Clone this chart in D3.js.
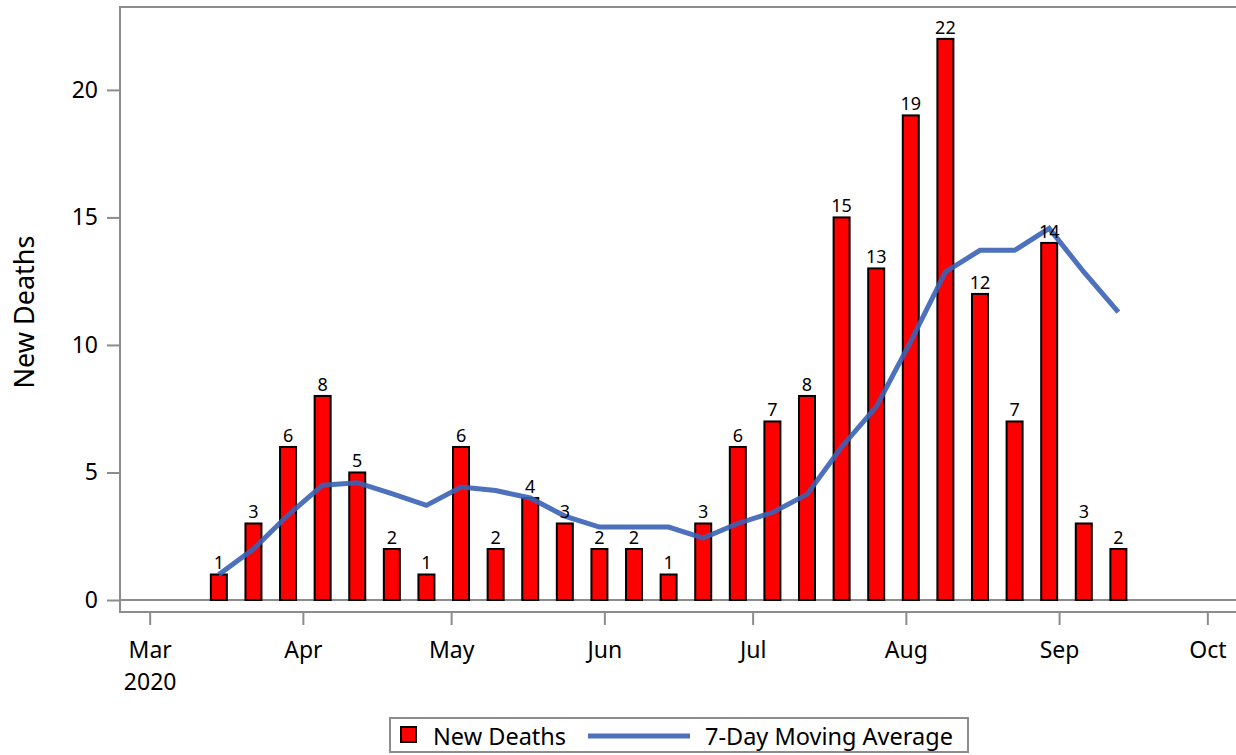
<!DOCTYPE html>
<html lang="en">
<head>
    <meta charset="UTF-8">
    <title>New Deaths</title>
    <script src="https://d3js.org/d3.v7.min.js"></script>
    <style>
        body { margin: 0; background: #fff; }
        text { font-family: "Noto Sans", "Open Sans", sans-serif; fill: #000; }
    </style>
</head>
<body>
<script>
    var width = 1236;
    var height = 755;

    // weekly data
    var weeks = ["2020-03-15", "2020-03-22", "2020-03-29", "2020-04-05", "2020-04-12", "2020-04-19",
        "2020-04-26", "2020-05-03", "2020-05-10", "2020-05-17", "2020-05-24", "2020-05-31",
        "2020-06-07", "2020-06-14", "2020-06-21", "2020-06-28", "2020-07-05", "2020-07-12",
        "2020-07-19", "2020-07-26", "2020-08-02", "2020-08-09", "2020-08-16", "2020-08-23",
        "2020-08-30", "2020-09-06", "2020-09-13"];
    var newDeaths = [1, 3, 6, 8, 5, 2, 1, 6, 2, 4, 3, 2, 2, 1, 3, 6, 7, 8, 15, 13, 19, 22, 12, 7, 14, 3, 2];
    var movingAvg = [1, 2, 3.33, 4.5, 4.6, 4.17, 3.71, 4.43, 4.29, 4, 3.29, 2.86, 2.86, 2.86, 2.43,
        3, 3.43, 4.14, 6, 7.57, 10.14, 12.86, 13.71, 13.71, 14.57, 12.86, 11.29];
    var monthTicks = ["2020-03-01", "2020-04-01", "2020-05-01", "2020-06-01", "2020-07-01",
        "2020-08-01", "2020-09-01", "2020-10-01"];
    var yTicks = [0, 5, 10, 15, 20];

    var parse = d3.timeParse("%Y-%m-%d");
    var data = weeks.map(function(w, i) {
        return { date: parse(w), deaths: newDeaths[i], avg: movingAvg[i] };
    });

    var plotLeft = 120, plotTop = 7, axisY = 612;

    var x = d3.scaleTime()
        .domain([parse("2020-02-24"), parse("2020-10-07")])
        .range([plotLeft, 1237]);
    var y = d3.scaleLinear()
        .domain([0, 23.25])
        .range([600, plotTop]);

    var svg = d3.select("body").append("svg")
        .attr("width", width)
        .attr("height", height);

    var axisColor = "#8c8c8c";
    var avgColor = "#3a62b6";

    // top border
    svg.append("line")
        .attr("x1", plotLeft).attr("x2", width).attr("y1", plotTop).attr("y2", plotTop)
        .style("stroke", axisColor).style("stroke-width", 2);

    // y axis
    var yAxis = svg.append("g")
        .attr("transform", "translate(" + plotLeft + ",0)")
        .call(d3.axisLeft(y).tickValues(yTicks).tickSize(13).tickPadding(9));
    yAxis.select(".domain").remove();
    yAxis.selectAll(".tick line").style("stroke", axisColor).style("stroke-width", 2);
    yAxis.selectAll(".tick text").style("font-size", "23px");
    svg.append("line")
        .attr("x1", plotLeft).attr("x2", plotLeft).attr("y1", plotTop - 1).attr("y2", axisY + 1)
        .style("stroke", axisColor).style("stroke-width", 2);

    // zero baseline across the plot
    svg.append("line")
        .attr("x1", plotLeft).attr("x2", width).attr("y1", y(0)).attr("y2", y(0))
        .style("stroke", axisColor).style("stroke-width", 2);

    // x axis
    var xAxis = svg.append("g")
        .attr("transform", "translate(0," + axisY + ")")
        .call(d3.axisBottom(x).tickValues(monthTicks.map(parse))
            .tickSize(13).tickPadding(17).tickFormat(d3.timeFormat("%b")));
    xAxis.select(".domain").remove();
    xAxis.selectAll(".tick line").style("stroke", axisColor).style("stroke-width", 2);
    xAxis.selectAll(".tick text").style("font-size", "23px");
    xAxis.selectAll(".tick").filter(function(d, i) { return i === 0; })
        .append("text")
        .attr("y", 78)
        .attr("text-anchor", "middle")
        .style("font-size", "23px")
        .style("fill", "#000")
        .text("2020");
    svg.append("line")
        .attr("x1", plotLeft - 1).attr("x2", width).attr("y1", axisY).attr("y2", axisY)
        .style("stroke", axisColor).style("stroke-width", 2);

    // y axis title
    svg.append("text")
        .attr("transform", "translate(34,312) rotate(-90)")
        .attr("text-anchor", "middle")
        .style("font-size", "27px")
        .text("New Deaths");

    // bars
    var barW = 16;
    svg.append("g").selectAll("rect")
        .data(data)
        .enter().append("rect")
        .attr("x", function(d) { return x(d.date) - barW / 2; })
        .attr("y", function(d) { return y(d.deaths); })
        .attr("width", barW)
        .attr("height", function(d) { return y(0) - y(d.deaths); })
        .style("fill", "#ff0000")
        .style("stroke", "#000")
        .style("stroke-width", 2);

    // moving average line
    var line = d3.line()
        .x(function(d) { return x(d.date); })
        .y(function(d) { return y(d.avg); });
    svg.append("path")
        .datum(data)
        .attr("d", line)
        .style("fill", "none")
        .style("stroke", avgColor)
        .style("stroke-opacity", 0.9)
        .style("stroke-width", 5);

    // bar labels
    svg.append("g").selectAll("text")
        .data(data)
        .enter().append("text")
        .attr("x", function(d) { return x(d.date); })
        .attr("y", function(d) { return y(d.deaths) - 5; })
        .attr("text-anchor", "middle")
        .style("font-size", "18px")
        .text(function(d) { return d.deaths; });

    // legend
    var legend = svg.append("g");
    legend.append("rect")
        .attr("x", 390).attr("y", 718).attr("width", 578).attr("height", 34)
        .style("fill", "#fff").style("stroke", axisColor).style("stroke-width", 2);
    legend.append("rect")
        .attr("x", 401).attr("y", 727).attr("width", 15).attr("height", 15)
        .style("fill", "#ff0000").style("stroke", "#000").style("stroke-width", 2);
    legend.append("text")
        .attr("x", 433).attr("y", 745)
        .style("font-size", "23.5px")
        .text("New Deaths");
    legend.append("line")
        .attr("x1", 588).attr("x2", 690).attr("y1", 736).attr("y2", 736)
        .style("stroke", avgColor).style("stroke-opacity", 0.9).style("stroke-width", 5);
    legend.append("text")
        .attr("x", 705).attr("y", 745)
        .style("font-size", "23.5px")
        .text("7-Day Moving Average");
</script>
</body>
</html>
